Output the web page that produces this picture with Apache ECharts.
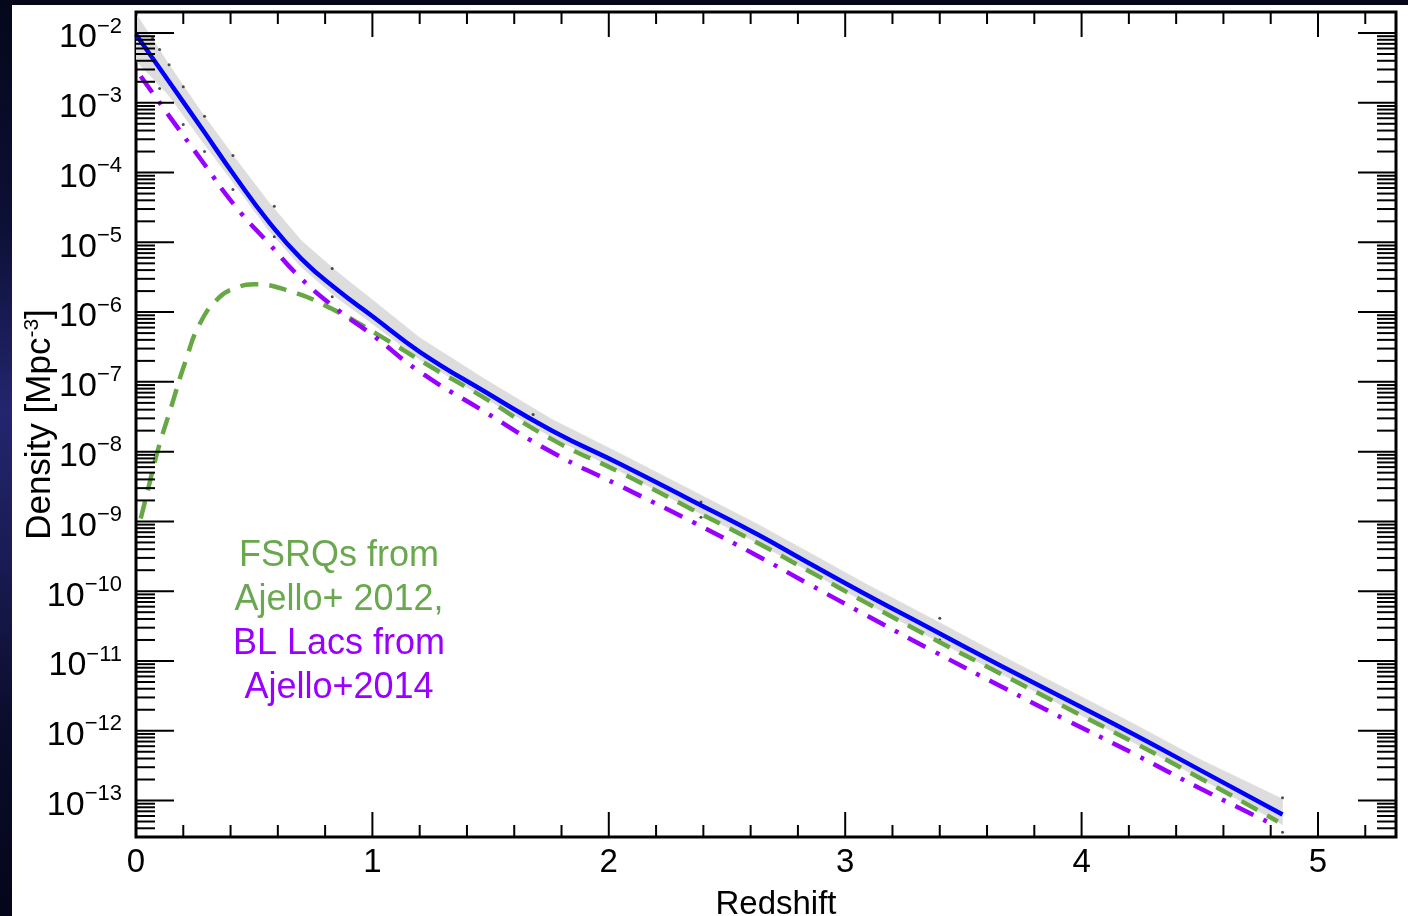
<!DOCTYPE html>
<html>
<head>
<meta charset="utf-8">
<script src="https://cdn.jsdelivr.net/npm/echarts@6/dist/echarts.min.js"></script>
<style>
  html, body { margin: 0; padding: 0; width: 1408px; height: 916px; overflow: hidden;
    background: linear-gradient(180deg, #05071a 0%, #0d1036 25%, #23266e 45%, #1a1c55 60%, #0a0c2a 80%, #05061a 100%); }
  #panel { position: absolute; left: 12px; top: 5px; width: 1396px; height: 911px; background: #fff; }
  #chart { position: absolute; left: 0; top: 0; width: 1408px; height: 916px; }
</style>
</head>
<body>
<div id="panel"></div>
<div id="chart"></div>
<script>
const FONT = "'Liberation Sans', Arial, Helvetica, sans-serif";

// Axis ranges
const XMIN = 0, XMAX = 5.33;
const YMIN = 3e-14, YMAX = 2e-2;

// Total blazar density (solid blue)
const blueZ = [0, 0.14, 0.28, 0.42, 0.56, 0.70, 0.85, 1.00, 1.20, 1.48, 1.76, 2.05, 2.35, 2.63, 2.84, 3.09, 3.37, 3.66, 3.94, 4.22, 4.50, 4.85];
const blueDensity = [9.5e-3, 2.0e-3, 4.2e-4, 8.7e-5, 2.0e-5, 5.8e-6, 2.1e-6, 8.7e-7, 2.7e-7, 7.1e-8, 2.0e-8, 6.6e-9, 2.0e-9, 6.5e-10, 2.6e-10, 8.9e-11, 2.8e-11, 8.5e-12, 2.75e-12, 8.9e-13, 2.75e-13, 6.3e-14];

// Uncertainty band around the total density
const bandZ = blueZ;
const bandHigh = [1.9e-2, 3.5e-3, 7.1e-4, 1.6e-4, 3.8e-5, 1.05e-5, 3.8e-6, 1.5e-6, 4.3e-7, 1.07e-7, 2.9e-8, 9.3e-9, 2.8e-9, 9.1e-10, 3.7e-10, 1.26e-10, 4.0e-11, 1.2e-11, 3.9e-12, 1.26e-12, 3.9e-13, 1.05e-13];
const bandLow = [4.0e-3, 1.26e-3, 2.8e-4, 6.6e-5, 1.5e-5, 4.4e-6, 1.6e-6, 6.8e-7, 2.1e-7, 5.75e-8, 1.6e-8, 5.2e-9, 1.5e-9, 4.9e-10, 2.0e-10, 6.8e-11, 2.1e-11, 6.5e-12, 2.1e-12, 6.8e-13, 2.1e-13, 4.5e-14];

// Sample points along the band edges
const dotZ = [0.07, 0.10, 0.10, 0.14, 0.20, 0.20, 0.29, 0.29, 0.41, 0.41, 0.585, 0.585, 0.83, 0.83, 1.68, 2.39, 2.39, 3.40, 3.40, 4.85, 4.85];
const dotDensity = [8.5e-3, 5.8e-3, 1.6e-3, 3.5e-3, 1.7e-3, 4.9e-4, 6.4e-4, 2.0e-4, 1.75e-4, 5.7e-5, 3.3e-5, 1.2e-5, 4.2e-6, 1.66e-6, 3.4e-8, 1.9e-9, 1.15e-9, 4.1e-11, 2.0e-11, 1.1e-13, 3.5e-14];

// FSRQs (green dashed)
const fsrqZ = [0.02, 0.05, 0.09, 0.15, 0.21, 0.27, 0.35, 0.42, 0.50, 0.65, 0.82, 1.03, 1.24, 1.44, 1.76, 2.05, 2.35, 2.63, 2.84, 3.09, 3.37, 3.66, 3.94, 4.22, 4.50, 4.83];
const fsrqDensity = [1.1e-9, 2.8e-9, 9.8e-9, 4.5e-8, 2.0e-7, 6.8e-7, 1.6e-6, 2.2e-6, 2.5e-6, 2.0e-6, 1.15e-6, 4.6e-7, 1.7e-7, 6.9e-8, 1.5e-8, 5.0e-9, 1.5e-9, 4.9e-10, 2.0e-10, 6.8e-11, 2.1e-11, 6.5e-12, 2.1e-12, 6.8e-13, 2.1e-13, 5.0e-14];

// BL Lacs (purple dash-dot)
const bllacZ = [0.02, 0.14, 0.28, 0.42, 0.56, 0.70, 0.85, 1.00, 1.20, 1.46, 1.76, 2.05, 2.35, 2.63, 2.84, 3.09, 3.37, 3.66, 3.94, 4.22, 4.50, 4.79];
const bllacDensity = [2.4e-3, 6.5e-4, 1.45e-4, 3.3e-5, 9.8e-6, 3.0e-6, 1.1e-6, 4.7e-7, 1.4e-7, 4.0e-8, 9.8e-9, 3.2e-9, 1.0e-9, 3.2e-10, 1.3e-10, 4.5e-11, 1.4e-11, 4.3e-12, 1.4e-12, 4.7e-13, 1.5e-13, 4.9e-14];

// Tick positions
const xMajorTicks = [0, 1, 2, 3, 4, 5];
const yMajorTicks = [1e-13, 1e-12, 1e-11, 1e-10, 1e-9, 1e-8, 1e-7, 1e-6, 1e-5, 1e-4, 1e-3, 1e-2];

// Annotation
const noteLines = ['FSRQs from', 'Ajello+ 2012,', 'BL Lacs from', 'Ajello+2014'];
const noteColors = ['#6aa84f', '#6aa84f', '#9900ff', '#9900ff'];

const pairs = (xs, ys) => xs.map((x, i) => [x, ys[i]]);

const xMinorTicks = [];
for (let i = 1; i * 0.2 < XMAX; i++) {
  const v = +(i * 0.2).toFixed(1);
  if (Math.abs(v - Math.round(v)) > 1e-9) xMinorTicks.push(v);
}
const yMinorTicks = [];
for (let e = -14; e <= -3; e++) {
  for (let k = 2; k <= 9; k++) {
    const v = k * Math.pow(10, e);
    if (v > YMIN * 1.001 && v < YMAX * 0.999) yMinorTicks.push(v);
  }
}
const yTickData = yMajorTicks.map(v => [XMIN, v, 1]).concat(yMinorTicks.map(v => [XMIN, v, 0]));
const xTickData = xMajorTicks.map(v => [v, YMIN, 1]).concat(xMinorTicks.map(v => [v, YMIN, 0]));
const bandData = bandZ.map((z, i) => [z, bandLow[i], bandHigh[i]]);

function tickLine(x1, y1, x2, y2) {
  return { type: 'line', shape: { x1, y1, x2, y2 }, style: { stroke: '#000', lineWidth: 2 } };
}

function renderYTick(params, api) {
  const v = api.value(1), major = api.value(2);
  const l = api.coord([XMIN, v]), r = api.coord([XMAX, v]);
  const len = major ? 38 : 19;
  return { type: 'group', children: [
    tickLine(l[0], l[1], l[0] + len, l[1]),
    tickLine(r[0] - len, r[1], r[0], r[1])
  ] };
}

function renderXTick(params, api) {
  const v = api.value(0), major = api.value(2);
  const b = api.coord([v, YMIN]), t = api.coord([v, YMAX]);
  const len = major ? 25 : 12;
  return { type: 'group', children: [
    tickLine(b[0], b[1], b[0], b[1] - len),
    tickLine(t[0], t[1], t[0], t[1] + len)
  ] };
}

function renderBand(params, api) {
  const i = params.dataIndex;
  if (i >= bandZ.length - 1) return null;
  const pts = [
    api.coord([bandZ[i], bandHigh[i]]),
    api.coord([bandZ[i + 1], bandHigh[i + 1]]),
    api.coord([bandZ[i + 1], bandLow[i + 1]]),
    api.coord([bandZ[i], bandLow[i]])
  ];
  return { type: 'polygon', shape: { points: pts }, style: { fill: '#dddddd', stroke: '#dddddd', lineWidth: 0.6 } };
}

const chart = echarts.init(document.getElementById('chart'), null, { renderer: 'canvas' });

chart.setOption({
  animation: false,
  backgroundColor: 'transparent',
  grid: { left: 136, right: 12, top: 12, bottom: 79, outerBoundsMode: 'none', containLabel: false,
    show: true, borderColor: '#000', borderWidth: 3, backgroundColor: 'transparent' },
  xAxis: {
    type: 'value', min: XMIN, max: XMAX, interval: 1,
    axisLine: { show: false }, axisTick: { show: false }, splitLine: { show: false },
    axisLabel: {
      formatter: v => (Math.abs(v - Math.round(v)) < 1e-6 ? String(Math.round(v)) : ''),
      color: '#000', fontSize: 33, fontFamily: FONT, margin: 9
    },
    name: 'Redshift', nameLocation: 'middle', nameGap: 51, nameMoveOverlap: false,
    nameTextStyle: { color: '#000', fontSize: 33, fontFamily: FONT, padding: [0, 0, 0, 20] }
  },
  yAxis: [
    { type: 'log', logBase: 10, min: YMIN, max: YMAX, position: 'left', show: false },
    {
      type: 'value', position: 'left',
      min: Math.log10(YMIN), max: Math.log10(YMAX), minInterval: 1, maxInterval: 1,
      axisLine: { show: false }, axisTick: { show: false }, splitLine: { show: false },
      axisLabel: {
        margin: 14,
        formatter: v => (Math.abs(v - Math.round(v)) < 1e-6 ? '{b|10}{s|\u2212' + Math.abs(Math.round(v)) + '}' : ''),
        rich: {
          b: { fontSize: 34, fontFamily: FONT, color: '#000', padding: [10, 0, 0, 0] },
          s: { fontSize: 22, fontFamily: FONT, color: '#000', padding: [0, 0, 13, 0] }
        }
      },
      name: 'Density [Mpc{s|-3}]', nameLocation: 'middle', nameRotate: 90, nameGap: 78, nameMoveOverlap: false,
      nameTextStyle: {
        color: '#000', fontSize: 35, fontFamily: FONT,
        rich: { s: { fontSize: 21, fontFamily: FONT, color: '#000', padding: [0, 0, 15, 0] } }
      }
    }
  ],
  graphic: {
    elements: noteLines.map((t, i) => ({
      type: 'text', x: 339, y: 556 + i * 44, z: 50,
      style: { text: t, fill: noteColors[i], font: '36px ' + FONT, align: 'center', verticalAlign: 'middle' }
    }))
  },
  series: [
    { type: 'custom', name: 'band', renderItem: renderBand, data: bandData, encode: { x: 0, y: 1 }, z: 1, silent: true, clip: true },
    { type: 'scatter', name: 'samples', data: pairs(dotZ, dotDensity), symbolSize: 3, itemStyle: { color: '#222' }, z: 2, silent: true },
    { type: 'line', name: 'Total', data: pairs(blueZ, blueDensity), showSymbol: false, smooth: 0.5,
      lineStyle: { color: '#0000ff', width: 4.5 }, z: 3 },
    { type: 'line', name: 'FSRQs', data: pairs(fsrqZ, fsrqDensity), showSymbol: false, smooth: 0.5,
      lineStyle: { color: '#66a844', width: 4.5, type: [18, 11], cap: 'butt' }, z: 4 },
    { type: 'line', name: 'BL Lacs', data: pairs(bllacZ, bllacDensity), showSymbol: false, smooth: 0.5,
      lineStyle: { color: '#9900ff', width: 4.5, type: [20, 11, 4, 11], cap: 'butt' }, z: 5 },
    { type: 'custom', name: 'yticks', renderItem: renderYTick, data: yTickData, encode: { x: 0, y: 1 }, z: 10, silent: true },
    { type: 'custom', name: 'xticks', renderItem: renderXTick, data: xTickData, encode: { x: 0, y: 1 }, z: 10, silent: true }
  ]
});
</script>
</body>
</html>
